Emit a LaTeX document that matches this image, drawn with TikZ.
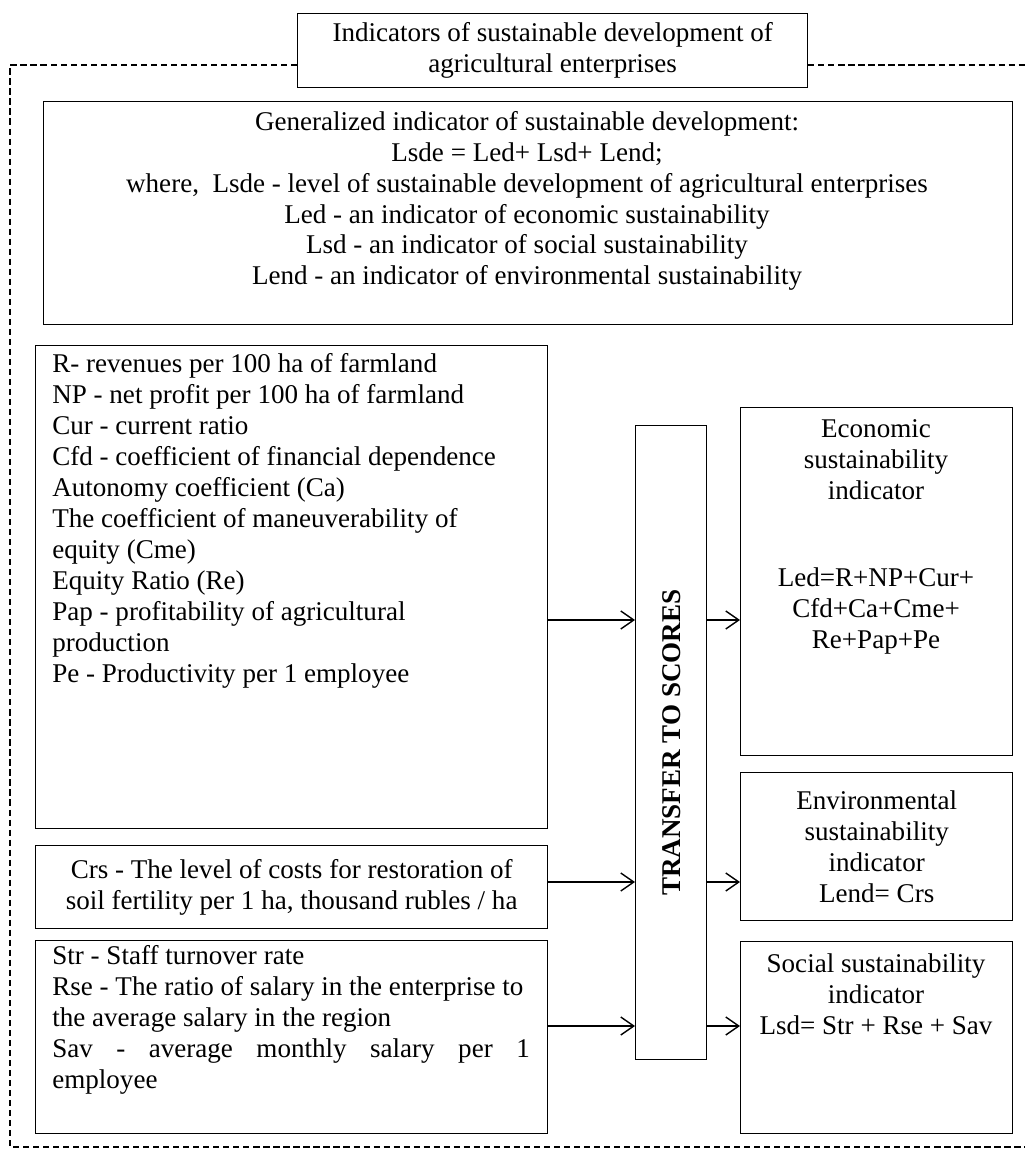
\documentclass[tikz,border=0pt]{standalone}
\usepackage{fontspec}
\setmainfont{Liberation Serif}
\usepackage{tikz}
\usetikzlibrary{arrows.meta}

\begin{document}
\begin{tikzpicture}[x=0.02cm, y=-0.02cm,
        every node/.style={font=\fontsize{15.4}{17.6}\selectfont, inner sep=0pt},
        box/.style={draw, line width=0.8pt, anchor=north west, align=center},
        frame/.style={line width=0.7pt, dash pattern=on 3.5pt off 2.2pt},
        flow/.style={line width=0.8pt, -{Straight Barb[length=2.6mm, width=3.6mm]}}]
        \useasboundingbox (0,0) rectangle (1025,1151);

        % title and dashed frame
        \node[box, minimum width=10.2cm, minimum height=1.48cm] (title) at (297,13)
            {Indicators of sustainable development of\\agricultural enterprises};
        \coordinate (fTL) at (10,65);
        \coordinate (fBL) at (10,1147);
        \coordinate (fBR) at (1025,1147);
        \coordinate (fTR) at (1025,65);
        \draw[frame] (title.west |- fTL) -- (fTL) -- (fBL) -- (fBR);
        \draw[frame] (title.east |- fTR) -- (fTR);

        % generalized indicator
        \node[box, minimum width=19.38cm, minimum height=4.46cm] (gen) at (43,101) {};
        \node[align=center] (genText) at (527,201)
            {Generalized indicator of sustainable development:\\
             Lsde = Led+ Lsd+ Lend;\\
             where,\ \ Lsde - level of sustainable development of agricultural enterprises\\
             Led - an indicator of economic sustainability\\
             Lsd - an indicator of social sustainability\\
             Lend - an indicator of environmental sustainability};

        % input indicators
        \node[box, minimum width=10.24cm, minimum height=9.66cm] (ecoIn) at (35,345) {};
        \node[anchor=west, align=left] (ecoInText) at (52,521)
            {R- revenues per 100 ha of farmland\\
             NP - net profit per 100 ha of farmland\\
             Cur - current ratio\\
             Cfd - coefficient of financial dependence\\
             Autonomy coefficient (Ca)\\
             The coefficient of maneuverability of\\
             equity (Cme)\\
             Equity Ratio (Re)\\
             Pap - profitability of agricultural\\
             production\\
             Pe - Productivity per 1 employee};
        \node[box, minimum width=10.24cm, minimum height=1.66cm] (envIn) at (35,845)
            {Crs - The level of costs for restoration of\\
             soil fertility per 1 ha, thousand rubles / ha};
        \node[box, minimum width=10.24cm, minimum height=3.86cm] (socIn) at (35,940) {};
        \node[anchor=west, text width=9.55cm, align=justify] (socInText) at (52,1020)
            {Str - Staff turnover rate\par
             Rse - The ratio of salary in the enterprise to\newline
             the average salary in the region\par
             Sav - average monthly salary per 1\linebreak employee};

        % transfer
        \node[box, minimum width=1.42cm, minimum height=12.68cm] (transfer) at (635,425) {};
        \node[rotate=90, font=\fontsize{15.4}{17.6}\selectfont\bfseries] (transferText)
            at (transfer.center) {TRANSFER TO SCORES};

        % output indicators
        \node[box, minimum width=5.44cm, minimum height=6.96cm] (ecoOut) at (740,407) {};
        \node[align=center] (ecoOutHead) at (876,460)
            {Economic\\sustainability\\indicator};
        \node[align=center] (ecoOutSum) at (876,611)
            {Led=R+NP+Cur+\\Cfd+Ca+Cme+\\Re+Pap+Pe};
        \node[box, minimum width=5.44cm, minimum height=2.96cm] (envOut) at (740,772)
            {Environmental\\sustainability\\indicator\\Lend= Crs};
        \node[box, minimum width=5.44cm, minimum height=3.84cm] (socOut) at (740,941) {};
        \node[align=center] (socOutText) at (876,994)
            {Social sustainability\\indicator\\Lsd= Str + Rse + Sav};

        % arrows
        \coordinate (lvEco) at (0,620);
        \coordinate (lvEnv) at (0,882);
        \coordinate (lvSoc) at (0,1026);
        \draw[flow] (ecoIn.east |- lvEco) -- (transfer.west |- lvEco);
        \draw[flow] (transfer.east |- lvEco) -- (ecoOut.west |- lvEco);
        \draw[flow] (envIn.east |- lvEnv) -- (transfer.west |- lvEnv);
        \draw[flow] (transfer.east |- lvEnv) -- (envOut.west |- lvEnv);
        \draw[flow] (socIn.east |- lvSoc) -- (transfer.west |- lvSoc);
        \draw[flow] (transfer.east |- lvSoc) -- (socOut.west |- lvSoc);
\end{tikzpicture}
\end{document}
